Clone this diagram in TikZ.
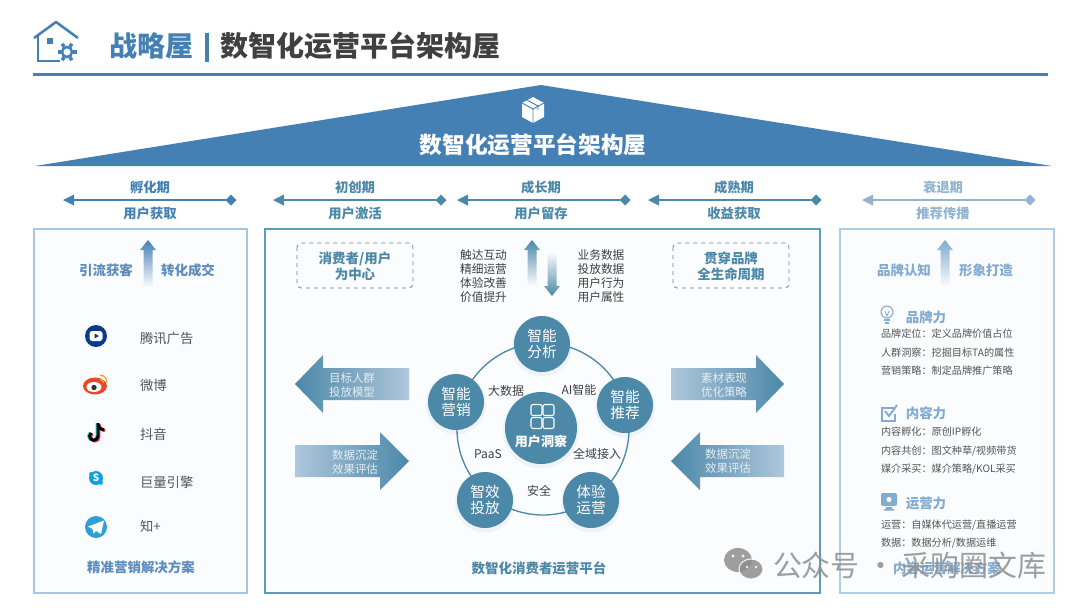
\documentclass[tikz,border=0pt]{standalone}
\usepackage{fontspec}
\setmainfont{Noto Sans CJK SC}
\usetikzlibrary{calc}
\definecolor{roofblue}{HTML}{4580B4}
\definecolor{teal}{HTML}{4C88A8}
\definecolor{paleblue}{HTML}{93B4D0}
\definecolor{boxleft}{HTML}{A9C4DD}
\definecolor{boxmid}{HTML}{5F9AB8}
\definecolor{boxright}{HTML}{AFCDE3}
\definecolor{boxfill}{HTML}{FBFCFE}
\definecolor{ink}{HTML}{404040}
\definecolor{bodyink}{HTML}{555555}
\definecolor{sideblue}{HTML}{5B8DBD}
\definecolor{lightblue}{HTML}{82ABD0}
\definecolor{markgray}{HTML}{8E8E8E}
\definecolor{txblue}{HTML}{0A3A8C}
\definecolor{wbred}{HTML}{E6492D}
\definecolor{wbgold}{HTML}{F2A33A}
\definecolor{skblue}{HTML}{12A0DD}
\definecolor{tgblue}{HTML}{2F9FD8}
\definecolor{ttcyan}{HTML}{25D8E0}
\definecolor{ttpink}{HTML}{F0285A}
\tikzset{
  x=0.75pt,y=-0.75pt,
  txt/.style={inner sep=0pt,outer sep=0pt,align=center},
  periodhead/.style={txt,font=\fontsize{10}{12}\selectfont\bfseries,text=#1},
  stagearrow/.style={draw=#1,line width=0.9pt},
  stagetip/.style={fill=#1,draw=none},
  panel/.style={draw=#1,fill=boxfill,line width=1pt},
  sidehead/.style={txt,font=\fontsize{10.1}{12}\selectfont\bfseries,text=#1},
  platform/.style={txt,anchor=west,font=\fontsize{10}{12}\selectfont,text=bodyink},
  stackline/.style={txt,font=\fontsize{8.8}{10.6}\selectfont,text=ink},
  dashbox/.style={draw=#1,dashed,rounded corners=3pt,line width=0.6pt,fill=none},
  boxtext/.style={txt,font=\fontsize{10.1}{12}\selectfont\bfseries,text=teal},
  petal/.style={circle,fill=teal,minimum size=42pt,inner sep=0pt,text=white,align=center,
     font=\fontsize{11}{12.4}\selectfont},
  ringlabel/.style={txt,font=\fontsize{9}{11}\selectfont,text=ink},
  bigarrowtext/.style={txt,font=\fontsize{8.6}{10.2}\selectfont,text=white!85!teal},
  detail/.style={txt,anchor=west,font=\fontsize{7.6}{10}\selectfont,text=bodyink},
  powerhead/.style={txt,font=\fontsize{10.1}{12}\selectfont\bfseries,text=lightblue},
}
\begin{document}
\begin{tikzpicture}
\useasboundingbox (0,0) rectangle (1080,608);
\fill[white] (0,0) rectangle (1080,608);

% header
\draw[roofblue,line width=1.9pt,line join=round] (34,38) -- (56,22) -- (78,38);
\draw[roofblue,line width=1.9pt] (38,34) -- (38,61) -- (60,61);
\fill[roofblue] (47,38) rectangle (53,44);
\draw[roofblue,line width=1.9pt] (67,52) circle (5);
\foreach \a in {0,60,...,300}{\draw[roofblue,line width=2.6pt] ($(67,52)+(\a:6)$) -- ($(67,52)+(\a:9.5)$);}
\node[txt,anchor=west,font=\fontsize{21}{24}\selectfont\bfseries,text=roofblue] (brand) at (109,46) {战略屋};
\fill[roofblue] (204.5,33) rectangle (208.5,62);
\node[txt,anchor=west,font=\fontsize{21}{24}\selectfont\bfseries,text=ink] (title) at (220,46) {数智化运营平台架构屋};
\fill[roofblue] (33,72.5) rectangle (1048,75.5);

% roof
\fill[roofblue] (35,166) -- (541,85) -- (1052,166) -- cycle;
\fill[white] (533,97) -- (544,103) -- (544,117) -- (533,123) -- (522,117) -- (522,103) -- cycle;
\draw[roofblue,line width=0.7pt] (522,103) -- (533,109) -- (544,103) (533,109) -- (533,123) (527,100) -- (538,106) -- (538,110);
\node[txt,font=\fontsize{17}{20}\selectfont\bfseries,text=white] (rooftext) at (533,145) {数智化运营平台架构屋};

% stages
\foreach \nm/\l/\r/\c/\top/\bot/\col in {
  a/63/231/150/孵化期/用户获取/roofblue,
  b/273/441/355/初创期/用户激活/teal,
  c/457/625/541/成长期/用户留存/teal,
  d/648/816/734/成熟期/收益获取/teal,
  e/862/1030/943/衰退期/推荐传播/paleblue}{
  \coordinate (s\nm L) at (\l+10,200);
  \coordinate (s\nm R) at (\r-5,200);
  \draw[stagearrow=\col] (s\nm L) -- (s\nm R);
  \fill[stagetip=\col] (\l,200) -- (\l+11,194.5) -- (\l+11,205.5) -- cycle;
  \fill[stagetip=\col] (\r-5.5,200) -- (\r,194.5) -- (\r+5.5,200) -- (\r,205.5) -- cycle;
  \node[periodhead=\col] (t\nm) at (\c,187) {\top};
  \node[periodhead=\col] (u\nm) at (\c,213) {\bot};
}

% panels
\draw[panel=boxleft] (34,229) rectangle (247,593);
\draw[panel=boxmid] (265,229) rectangle (820,593);
\draw[panel=boxright] (840,229) rectangle (1054,593);

% left panel
\shade[top color=roofblue,bottom color=boxfill] (148,240) -- (156,250) -- (152.5,250) -- (152.5,287) -- (143.5,287) -- (143.5,250) -- (140,250) -- cycle;
\node[sidehead=sideblue] (l1) at (106,270) {引流获客};
\node[sidehead=sideblue] (l2) at (188,270) {转化成交};

\fill[txblue] (96,336) circle (11);
\fill[white,rounded corners=2pt] (89.5,331) rectangle (102.5,341);
\fill[txblue] (94.5,333.5) -- (99,336) -- (94.5,338.5) -- cycle;

\fill[wbred] (95,386) ellipse (12 and 8.5);
\fill[white] (94,387) ellipse (7.5 and 5);
\fill[black!80] (94,387.5) circle (2.7);
\draw[wbgold,line width=1pt] (100,375) arc (-90:5:7);
\draw[wbgold,line width=1pt] (100,379) arc (-90:5:3.5);

\begin{scope}[line width=2.2pt,line cap=butt]
\foreach \dx/\dy/\cc in {-1/0/ttcyan,1/0.8/ttpink,0/0/black}{
  \draw[\cc] (98+\dx,423+\dy) -- (98+\dx,436+\dy) arc (0:230:4.2);
  \draw[\cc] (98+\dx,424+\dy) .. controls (99+\dx,428+\dy) and (101+\dx,429.5+\dy) .. (104+\dx,430+\dy);
}
\end{scope}

\fill[skblue] (96,478) circle (7);
\fill[skblue,rounded corners=2pt] (89,472) rectangle (93,476);
\fill[skblue,rounded corners=2pt] (99,480) rectangle (103,485);
\node[txt,font=\fontsize{7.5}{8}\selectfont\bfseries,text=white] (skypes) at (96,478) {S};

\fill[tgblue] (96,527) circle (11);
\fill[white] (88,526.5) -- (104,520.5) -- (101,534) -- (96,531) -- (93.5,533.5) -- (92.5,529) -- cycle;

\node[platform] (p1) at (140,339) {腾讯广告};
\node[platform] (p2) at (140,385) {微博};
\node[platform] (p3) at (140,434) {抖音};
\node[platform] (p4) at (140,482) {巨量引擎};
\node[platform] (p5) at (140,526) {知+};
\node[sidehead=sideblue] (lfoot) at (141,567) {精准营销解决方案};

% centre panel top
\draw[dashbox=gray!70!teal] (297,243) rectangle (413,288);
\node[boxtext] (b1) at (355,266) {消费者/用户\\为中心};
\draw[dashbox=gray!70!teal] (673,243) rectangle (789,288);
\node[boxtext] (b2) at (731,266) {贯穿品牌\\全生命周期};
\node[stackline] (s1) at (483.5,276) {触达互动\\精细运营\\体验改善\\价值提升};
\node[stackline] (s2) at (601,276) {业务数据\\投放数据\\用户行为\\用户属性};
\shade[top color=teal,bottom color=boxfill] (532,240) -- (540,250) -- (536.5,250) -- (536.5,286) -- (527.5,286) -- (527.5,250) -- (524,250) -- cycle;
\shade[top color=boxfill,bottom color=teal] (547.5,252) -- (556.5,252) -- (556.5,286) -- (560,286) -- (552,296) -- (544,286) -- (547.5,286) -- cycle;

% ring
\node[circle,draw=teal,line width=1pt,minimum size=129pt,inner sep=0pt] (ring) at (543,429) {};
\foreach \x/\y/\r in {542/344/30,456/402/30,625/405/30,485/500/30,591/500/30,541/428/38}{
  \fill[teal,opacity=0.07] (\x,\y+2.5) circle (\r);
}
\node[petal] (p-an) at (542,344) {智能\\分析};
\node[petal] (p-mk) at (456,402) {智能\\营销};
\node[petal] (p-re) at (625,405) {智能\\推荐};
\node[petal] (p-de) at (485,500) {智效\\投放};
\node[petal] (p-op) at (591,500) {体验\\运营};
\node[petal,minimum size=54pt] (p-in) at (541,428) {};
\foreach \x/\y in {536.5/410,548.5/410,536.5/423,548.5/423}{
  \draw[white,line width=0.8pt,rounded corners=1.5pt] (\x-5.5,\y-5.5) rectangle (\x+5.5,\y+5.5);
}
\node[txt,font=\fontsize{9.8}{12}\selectfont\bfseries,text=white] (insight) at (541,442) {用户洞察};
\node[ringlabel] (r1) at (506,391) {大数据};
\node[ringlabel] (r2) at (579,390) {AI智能};
\node[ringlabel] (r3) at (597,454) {全域接入};
\node[ringlabel] (r4) at (488,454) {PaaS};
\node[ringlabel] (r5) at (539,491) {安全};
\node[txt,font=\fontsize{10.1}{12}\selectfont\bfseries,text=teal] (cfoot) at (539,568) {数智化消费者运营平台};

% big arrows
\shade[left color=teal,right color=paleblue!75!white] (295,384) -- (323,355) -- (323,368) -- (409,368) -- (409,400) -- (323,400) -- (323,413) -- cycle;
\node[bigarrowtext] (a1) at (352,385) {目标人群\\投放模型};
\shade[left color=paleblue!75!white,right color=teal] (295,445) -- (380,445) -- (380,432) -- (409,461) -- (380,490) -- (380,477) -- (295,477) -- cycle;
\node[bigarrowtext] (a2) at (355,462) {数据沉淀\\效果评估};
\shade[left color=paleblue!75!white,right color=teal] (671,368) -- (756,368) -- (756,355) -- (784,384) -- (756,413) -- (756,400) -- (671,400) -- cycle;
\node[bigarrowtext] (a3) at (724,385) {素材表现\\优化策略};
\shade[left color=teal,right color=paleblue!75!white] (671,461) -- (700,432) -- (700,445) -- (784,445) -- (784,477) -- (700,477) -- (700,490) -- cycle;
\node[bigarrowtext] (a4) at (728,461) {数据沉淀\\效果评估};

% right panel
\shade[top color=lightblue,bottom color=boxfill] (945,240) -- (953,250) -- (949.5,250) -- (949.5,287) -- (940.5,287) -- (940.5,250) -- (937,250) -- cycle;
\node[sidehead=lightblue] (r-a) at (904,270) {品牌认知};
\node[sidehead=lightblue] (r-b) at (986,270) {形象打造};

\draw[lightblue,line width=0.8pt] (887,312) circle (6);
\draw[lightblue,line width=1.4pt] (884,320) -- (890,320) (885,323) -- (889,323);
\draw[lightblue,line width=0.6pt] (885,311) -- (887,316) -- (889,311);
\node[powerhead] (h1) at (926,317) {品牌力};
\node[detail] (d11) at (881,334) {品牌定位：定义品牌价值占位};
\node[detail] (d12) at (881,353) {人群洞察：挖掘目标TA的属性};
\node[detail] (d13) at (881,371) {营销策略：制定品牌推广策略};

\draw[lightblue,line width=1.2pt] (895,408) -- (882,408) -- (882,421) -- (895,421) -- (895,414);
\draw[lightblue,line width=1.4pt] (885,411) -- (889,416) -- (897,405);
\node[powerhead] (h2) at (926,413) {内容力};
\node[detail] (d21) at (881,432) {内容孵化：原创IP孵化};
\node[detail] (d22) at (881,451) {内容共创：图文种草/视频带货};
\node[detail] (d23) at (881,469) {媒介采买：媒介策略/KOL采买};

\fill[lightblue,rounded corners=1.5pt] (881,493) rectangle (897,506);
\fill[white] (889,499.5) circle (2.5);
\fill[lightblue] (886,507) rectangle (892,509) (884,509) rectangle (894,510.5);
\node[powerhead] (h3) at (926,503) {运营力};
\node[detail] (d31) at (881,525) {运营：自媒体代运营/直播运营};
\node[detail] (d32) at (881,543) {数据：数据分析/数据运维};
\node[sidehead=lightblue] (rfoot) at (947,568) {内容运营解决方案};

% watermark
\begin{scope}[opacity=0.85]
\fill[markgray] (738,560) ellipse (14 and 12);
\fill[markgray] (751,569) ellipse (12 and 10);
\draw[white,line width=0.8pt] (751,569) ellipse (12 and 10);
\fill[white] (733,556) circle (1.7) (743,556) circle (1.7) (747,567) circle (1.4) (756,567) circle (1.4);
\node[txt,anchor=west,font=\fontsize{21.7}{24}\selectfont,text=markgray] (mark) at (773,565) {公众号 · 采购圈文库};
\end{scope}
\end{tikzpicture}
\end{document}
